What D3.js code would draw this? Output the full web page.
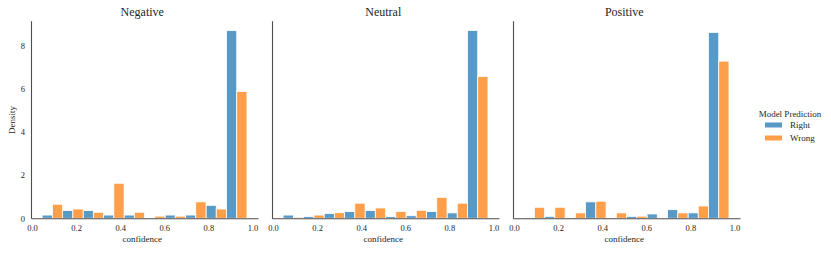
<!DOCTYPE html>
<html lang="en">
<head>
<meta charset="UTF-8">
<title>Confidence by sentiment</title>
<script src="https://d3js.org/d3.v7.min.js"></script>
<style>
  body { margin: 0; background: #fff; }
  text { font-family: "Liberation Serif", "DejaVu Serif", serif; fill: #262626; }
</style>
</head>
<body>
<script>
// histogram densities, 10 bins per panel
var panels = ["Negative", "Neutral", "Positive"];
var hues = ["Right", "Wrong"];
var hueColors = ["#1f77b4", "#ff7f0e"];
var negRight = [0.15, 0.36, 0.36, 0.15, 0.15, 0.0, 0.15, 0.15, 0.60, 8.68];
var negWrong = [0.65, 0.43, 0.28, 1.62, 0.28, 0.10, 0.10, 0.76, 0.43, 5.87];
var neuRight = [0.15, 0.08, 0.22, 0.31, 0.36, 0.08, 0.12, 0.31, 0.25, 8.69];
var neuWrong = [0.05, 0.15, 0.26, 0.70, 0.48, 0.32, 0.37, 0.97, 0.70, 6.56];
var posRight = [0.04, 0.09, 0.04, 0.76, 0.04, 0.09, 0.20, 0.40, 0.25, 8.60];
var posWrong = [0.51, 0.51, 0.25, 0.79, 0.25, 0.10, 0.00, 0.25, 0.57, 7.27];
var binStart = 0.046;
var binWidth = 0.0929;
var xTicks = [0.0, 0.2, 0.4, 0.6, 0.8, 1.0];
var yTicks = [0, 2, 4, 6, 8];

var series = [[negRight, negWrong], [neuRight, neuWrong], [posRight, posWrong]];

var width = 831, height = 253;
var plotTop = 20.7, plotBottom = 218.3;
var panelLeft = [31, 272, 513];
var panelW = 227;

var svg = d3.select("body").append("svg")
    .attr("width", width)
    .attr("height", height);

var y = d3.scaleLinear().domain([0, 9.14]).range([plotBottom, plotTop]);

panels.forEach(function (name, p) {
    var g = svg.append("g").attr("transform", "translate(" + panelLeft[p] + ",0)");
    var x = d3.scaleLinear().domain([-0.0045, 1.025]).range([0, panelW]);

    // bars, dodged within each bin
    series[p].forEach(function (vals, h) {
        g.selectAll(".bar" + h)
            .data(vals)
            .enter()
            .append("rect")
            .attr("x", function (d, i) { return x(binStart + i * binWidth + h * binWidth / 2); })
            .attr("width", function (d, i) {
                return x(binStart + (i + 0.5) * binWidth) - x(binStart + i * binWidth);
            })
            .attr("y", function (d) { return y(d); })
            .attr("height", function (d) { return y(0) - y(d); })
            .attr("fill", hueColors[h])
            .attr("fill-opacity", 0.75)
            .attr("stroke", "#fff")
            .attr("stroke-width", 0.8);
    });

    var xAxis = d3.axisBottom(x).tickValues(xTicks).tickSize(0).tickPadding(7)
        .tickFormat(d3.format(".1f"));
    var ga = g.append("g").attr("transform", "translate(0," + plotBottom + ")").call(xAxis);
    ga.select(".domain").attr("stroke", "#4d4d4d").attr("stroke-width", 1.1);
    ga.selectAll("text").style("font-family", "Liberation Serif").attr("font-size", 8.5).attr("fill", "#333");

    var yAxis = d3.axisLeft(y).tickValues(yTicks).tickSize(0).tickPadding(6);
    var gy = g.append("g").call(yAxis);
    gy.select(".domain").attr("stroke", "#4d4d4d").attr("stroke-width", 1.1);
    if (p > 0) gy.selectAll("text").remove();
    gy.selectAll("text").style("font-family", "Liberation Serif").attr("font-size", 8.5).attr("fill", "#333");

    g.append("text")
        .attr("x", x(0.5))
        .attr("y", 16)
        .attr("text-anchor", "middle")
        .attr("font-size", 12)
        .text(name);

    g.append("text")
        .attr("x", x(0.5))
        .attr("y", 242)
        .attr("text-anchor", "middle")
        .attr("font-size", 9)
        .attr("fill", "#333")
        .text("confidence");
});

svg.append("text")
    .attr("transform", "translate(15,120) rotate(-90)")
    .attr("text-anchor", "middle")
    .attr("font-size", 9)
    .attr("fill", "#333")
    .text("Density");

// legend
var legend = svg.append("g");
legend.append("text")
    .attr("x", 790)
    .attr("y", 116.5)
    .attr("text-anchor", "middle")
    .attr("font-size", 9)
    .text("Model Prediction");
hues.forEach(function (h, i) {
    legend.append("rect")
        .attr("x", 765)
        .attr("y", 122.5 + i * 13)
        .attr("width", 17)
        .attr("height", 5)
        .attr("fill", hueColors[i])
        .attr("fill-opacity", 0.75);
    legend.append("text")
        .attr("x", 790)
        .attr("y", 128 + i * 13)
        .attr("font-size", 9)
        .text(h);
});
</script>
</body>
</html>
